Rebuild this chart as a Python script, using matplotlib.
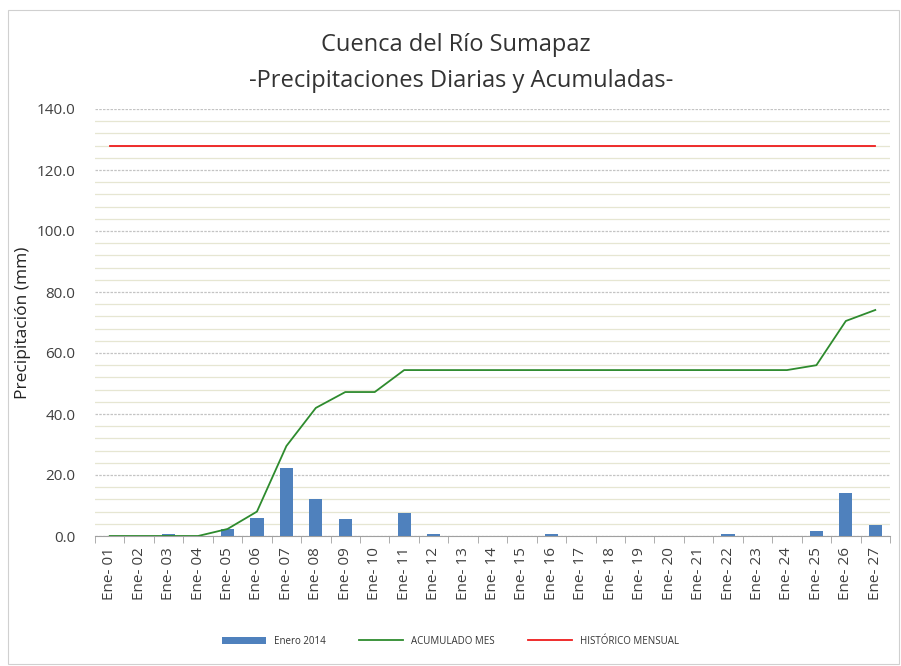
import numpy as np
import matplotlib
matplotlib.use("Agg")
import matplotlib.pyplot as plt
from matplotlib.patches import Rectangle

# ----------------------------------------------------------------------
days = [f"Ene- {i:02d}" for i in range(1, 28)]
daily = [0.0, 0.0, 0.7, 0.0, 2.3, 5.9, 22.3, 12.1, 5.6, 0.0, 7.5, 0.6, 0.0, 0.0,
         0.0, 0.6, 0.0, 0.0, 0.0, 0.0, 0.0, 0.6, 0.0, 0.0, 1.8, 14.0, 3.7]
accum = [0.0, 0.0, 0.0, 0.0, 2.3, 8.0, 29.5, 42.0, 47.2, 47.2, 54.4, 54.4, 54.4, 54.4,
         54.4, 54.4, 54.4, 54.4, 54.4, 54.4, 54.4, 54.4, 54.4, 54.4, 56.0, 70.5, 74.1]
historic = [128.0] * 27
# ----------------------------------------------------------------------

plt.rcParams['font.family'] = ['Open Sans', 'DejaVu Sans']

fig = plt.figure(figsize=(9.01, 6.66), dpi=100)
ax = fig.add_axes([95/901, 1-536/666, (890-95)/901, (536-109)/666])

# chart border
fig.patches.append(Rectangle((8/901, 2/666), 891/901, 654/666, transform=fig.transFigure,
                             fill=False, edgecolor='#d0d0d0', lw=0.8))

x = np.arange(len(days))
bars = ax.bar(x, daily, width=0.45, color='#4f81bd', label='Enero 2014', zorder=3)
l1, = ax.plot(x, accum, color='#2e8b2e', lw=1.3, label='ACUMULADO MES', zorder=4)
l2, = ax.plot(x, historic, color='#ee1c1c', lw=1.3, label='HISTÓRICO MENSUAL', zorder=4)

ax.set_xlim(-0.5, len(days) - 0.5)
ax.set_ylim(0, 140)
ax.set_yticks(np.arange(0, 141, 20))
ax.set_yticks(np.arange(0, 141, 4), minor=True)
ax.set_yticklabels([f"{v:.1f}" for v in np.arange(0, 141, 20)], fontsize=11, color='#404040')
ax.grid(axis='y', which='minor', color='#e6e6d2', lw=0.9, zorder=0)
ax.grid(axis='y', which='major', color='#c4c4c4', lw=0.9, ls=(0, (2, 1)), zorder=0)
ax.tick_params(axis='y', which='both', length=0, pad=14)

ax.set_xticks(x)
ax.set_xticklabels(days, rotation=90, fontsize=11, color='#404040')
ax.set_xticks(np.arange(-0.5, len(days), 1), minor=True)
ax.tick_params(axis='x', which='major', length=0, pad=8)
ax.tick_params(axis='x', which='minor', length=5, color='#a0a0a0', direction='out')

for s in ['top', 'right', 'left']:
    ax.spines[s].set_visible(False)
ax.spines['bottom'].set_color('#a0a0a0')

ax.set_ylabel('Precipitación (mm)', fontsize=12.5, color='#222222', labelpad=4)

fig.text(0.506, 0.932, 'Cuenca del Río Sumapaz', ha='center', va='center', fontsize=17, color='#333333')
fig.text(0.512, 0.878, '-Precipitaciones Diarias y Acumuladas-', ha='center', va='center',
         fontsize=17, color='#333333')

fig.legend([bars, l1, l2], ['Enero 2014', 'ACUMULADO MES', 'HISTÓRICO MENSUAL'],
           loc='center', bbox_to_anchor=(0.50, 0.037), ncol=3, frameon=False,
           fontsize=7, handlelength=4.5, columnspacing=3.5, handleheight=0.8,
           labelcolor='#333333')

fig.savefig('out.png', dpi=100)
